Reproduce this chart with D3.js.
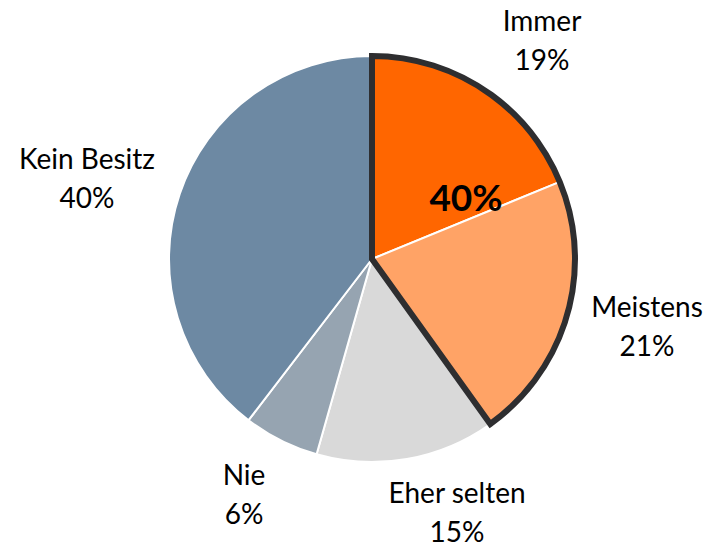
<!DOCTYPE html>
<html><head><meta charset="utf-8">
<script src="https://cdn.jsdelivr.net/npm/d3@7"></script>
<style>body{margin:0;background:#fff}svg{display:block}text{font-family:Lato,"Open Sans",sans-serif}</style>
</head><body><svg id="c" width="723" height="546"></svg>
<script>
const categories = ["Immer", "Meistens", "Eher selten", "Nie", "Kein Besitz"];
const values = [18.8, 21.3, 14.3, 6.0, 39.6];
const valueLabels = ["19%", "21%", "15%", "6%", "40%"];
const highlightLabel = "40%";
const colors = ["#FF6600", "#FFA366", "#D9D9D9", "#96A4B1", "#6D89A3"];

const W = 723, H = 546, cx = 372, cy = 259, R = 203;
const svg = d3.select("#c");
const g = svg.append("g").attr("transform", `translate(${cx},${cy})`);

const pie = d3.pie().sort(null).value(d => d);
const arcs = pie(values);
const arc = d3.arc().innerRadius(0).outerRadius(R);

g.selectAll("path.slice").data(arcs).enter().append("path")
  .attr("class", "slice")
  .attr("d", arc)
  .attr("fill", (d, i) => colors[i])
  .attr("stroke", "#fff").attr("stroke-width", 2).attr("stroke-linejoin", "round");

// outline around first two slices
g.append("path")
  .attr("d", arc({startAngle: arcs[0].startAngle, endAngle: arcs[1].endAngle}))
  .attr("fill", "none").attr("stroke", "#2E2E30").attr("stroke-width", 6).attr("stroke-linejoin", "miter");

// label layout: first-line baseline offsets from centre (layout only)
const labelOffsets = [[170, -228], [275, 58], [85, 244], [-128, 226], [-285, -90]];
const lineGap = 38.5;
const lbl = g.selectAll("g.lbl").data(arcs).enter().append("g").attr("class", "lbl")
  .attr("transform", (d, i) => `translate(${labelOffsets[i][0]},${labelOffsets[i][1]})`);
lbl.append("text").attr("text-anchor", "middle").attr("y", 0)
  .attr("font-size", 28).attr("fill", "#000").text((d, i) => categories[i]);
lbl.append("text").attr("text-anchor", "middle").attr("y", lineGap)
  .attr("font-size", 28).attr("fill", "#000").text((d, i) => valueLabels[i]);

g.append("text").attr("x", 94).attr("y", -48).attr("text-anchor", "middle")
  .attr("font-size", 37).attr("font-weight", "bold").attr("fill", "#000").text(highlightLabel);
</script></body></html>
